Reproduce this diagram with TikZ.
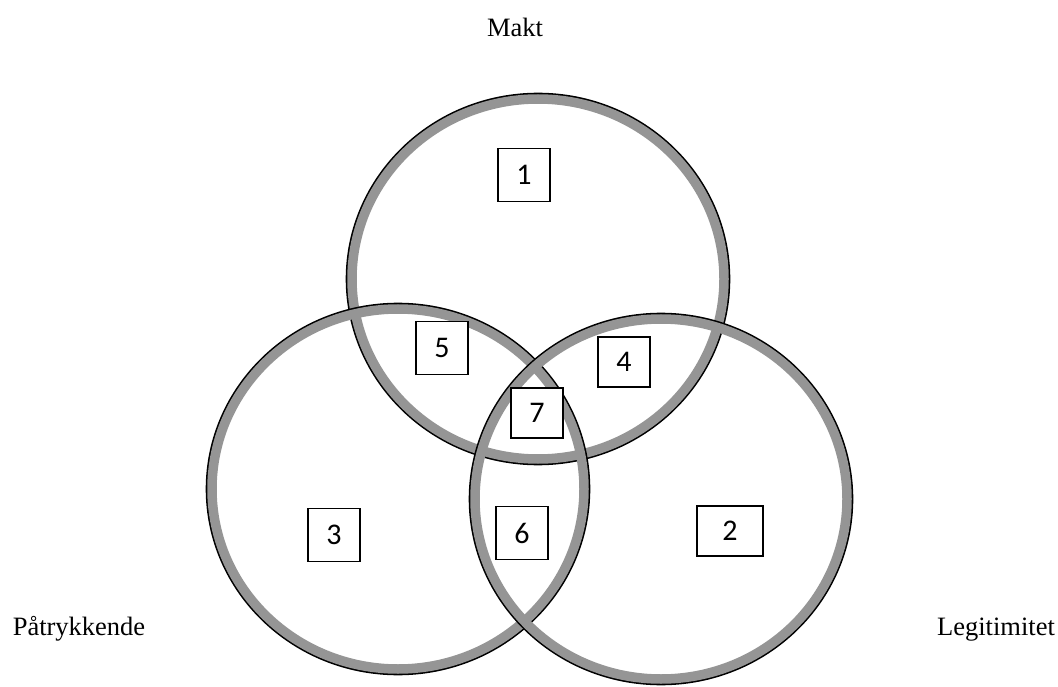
\documentclass[tikz,border=0pt]{standalone}
\usepackage{fontspec}
\setmainfont{Liberation Serif}
\newfontfamily\numfont{Carlito}
\usepackage{tikz}
\definecolor{BandGray}{HTML}{959595}

\tikzset{
    ring/.style={BandGray, line width=9.5pt},
    ringedge/.style={black, line width=2.6pt},
    numbox/.style={draw, line width=1.8pt, fill=white, minimum width=52pt, minimum height=53pt, inner sep=0pt, font=\numfont\fontsize{30}{30}\selectfont},
    setlabel/.style={anchor=base, font=\fontsize{26.5}{26.5}\selectfont}
}

\begin{document}
\begin{tikzpicture}[x=1pt, y=-1pt]
    \useasboundingbox (0, 0) rectangle (1058, 687);

    % Circle centres
    \coordinate (makt) at (538, 279);
    \coordinate (paa) at (398, 489);
    \coordinate (legit) at (661, 499);

    % Circles
    \foreach \c in {makt, paa, legit} {
        \draw[ringedge] (\c) ellipse [x radius=191, y radius=185];
        \draw[ring] (\c) ellipse [x radius=186, y radius=180];
    }

    % Region boxes
    \node[numbox] (r1) at (524, 175) {1};
    \node[numbox, minimum width=66pt, minimum height=50pt] (r2) at (730, 531) {2};
    \node[numbox] (r3) at (334, 535) {3};
    \node[numbox, minimum height=50pt] (r4) at (624, 362) {4};
    \node[numbox] (r5) at (442, 348) {5};
    \node[numbox] (r6) at (522, 533) {6};
    \node[numbox, minimum height=50pt] (r7) at (537, 413) {7};

    % Set labels
    \node[setlabel] (lmakt) at (515, 37) {Makt};
    \node[setlabel] (lpaa) at (79, 635) {Påtrykkende};
    \node[setlabel] (llegit) at (996, 635) {Legitimitet};
\end{tikzpicture}
\end{document}
